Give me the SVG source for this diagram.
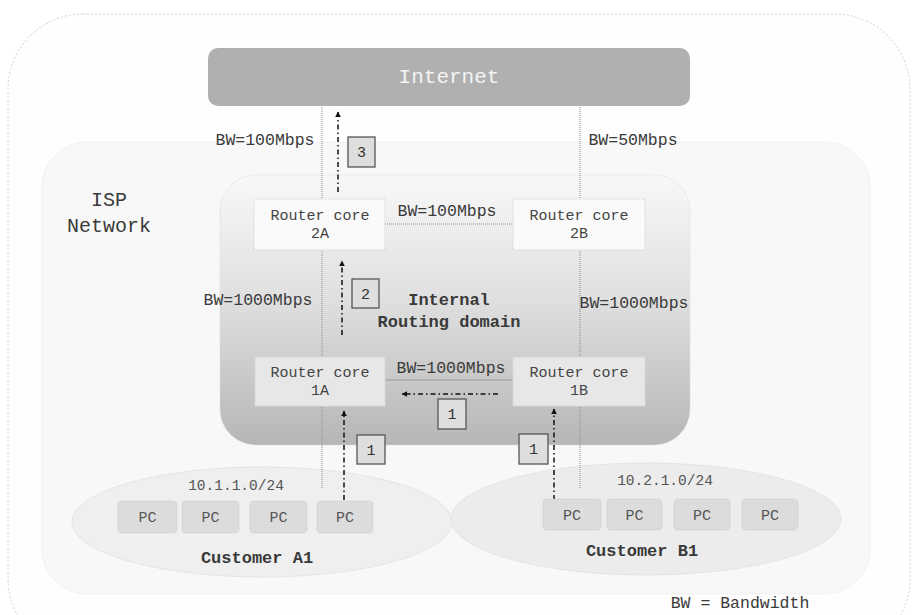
<svg xmlns="http://www.w3.org/2000/svg" width="917" height="615" viewBox="0 0 917 615">
  <defs>
    <linearGradient id="domainGrad" x1="0" y1="0" x2="0" y2="1">
      <stop offset="0" stop-color="#f8f8f8"/>
      <stop offset="0.45" stop-color="#e0e0e0"/>
      <stop offset="1" stop-color="#b6b6b6"/>
    </linearGradient>
    <marker id="arrowHead" viewBox="0 0 10 10" refX="9" refY="5" markerWidth="6" markerHeight="6" orient="auto" markerUnits="userSpaceOnUse">
      <path d="M0,0 L10,5 L0,10 Z" fill="#111"/>
    </marker>
    <style>
      text { font-family: "Liberation Mono", "Courier New", monospace; fill: #3a3a3a; }
      .bw { font-size: 16.5px; text-anchor: middle; }
      .router { font-size: 15px; text-anchor: middle; fill: #444; }
      .pc { font-size: 15px; text-anchor: middle; fill: #555; }
      .num { font-size: 15px; text-anchor: middle; fill: #333; }
      .bold { font-weight: bold; }
      .link { stroke: #8a8a8a; stroke-width: 1; stroke-dasharray: 1 1; fill: none; }
      .flow { stroke: #111; stroke-width: 1.5; stroke-dasharray: 5 3 1.5 3; fill: none; marker-end: url(#arrowHead); }
      .step { fill: #dedede; stroke: #555; stroke-width: 1.3; }
      .pcbox { fill: #dcdcdc; stroke: #c8c8c8; stroke-width: 1; stroke-dasharray: 1 1; }
      .rtr2 { fill: #fafafa; stroke: #cfcfcf; stroke-width: 1; stroke-dasharray: 1 1; }
      .rtr1 { fill: #e7e7e7; stroke: #d8d8d8; stroke-width: 1; }
    </style>
  </defs>

  <!-- backgrounds -->
  <g id="frame">
    <rect x="8" y="14" width="902" height="640" rx="75" fill="#fefefe" stroke="#d0d0d0" stroke-width="1" stroke-dasharray="2 2"/>
  </g>
  <g id="isp-network">
    <rect x="42" y="142" width="828" height="452" rx="45" fill="#f8f8f8" stroke="#e6e6e6" stroke-width="1" stroke-dasharray="1 1"/>
    <text x="109" y="206" text-anchor="middle" font-size="20">ISP</text>
    <text x="109" y="232" text-anchor="middle" font-size="20">Network</text>
  </g>
  <g id="internal-domain">
    <rect x="220" y="175" width="470" height="270" rx="36" fill="url(#domainGrad)" stroke="#dcdcdc" stroke-width="1" stroke-dasharray="1 1"/>
    <text x="449" y="305" text-anchor="middle" font-size="17" class="bold">Internal</text>
    <text x="449" y="327" text-anchor="middle" font-size="17" class="bold">Routing domain</text>
  </g>

  <g id="customer-a1">
    <ellipse cx="262" cy="522" rx="190" ry="55" fill="#efefef" stroke="#d6d6d6" stroke-width="1" stroke-dasharray="1 1"/>
  </g>
  <g id="customer-b1">
    <ellipse cx="646" cy="519" rx="195" ry="56" fill="#ececec" stroke="#d6d6d6" stroke-width="1" stroke-dasharray="1 1"/>
  </g>

  <!-- connectors -->
  <g id="connectors">
    <line class="link" x1="322" y1="105" x2="322" y2="488"/>
    <line class="link" x1="580" y1="105" x2="580" y2="489"/>
    <line class="link" x1="385" y1="224" x2="513" y2="224"/>
    <line x1="385" y1="380" x2="513" y2="380" stroke="#999" stroke-width="1"/>
    <line class="flow" x1="338" y1="192" x2="338" y2="112"/>
    <line class="flow" x1="342" y1="335" x2="342" y2="261"/>
    <line class="flow" x1="344" y1="500" x2="344" y2="411"/>
    <line class="flow" x1="554" y1="500" x2="554" y2="409"/>
    <line class="flow" x1="498" y1="394" x2="402" y2="394"/>
    <text class="bw" x="265" y="145">BW=100Mbps</text>
    <text class="bw" x="633" y="145">BW=50Mbps</text>
    <text class="bw" x="447" y="216">BW=100Mbps</text>
    <text class="bw" x="258" y="305">BW=1000Mbps</text>
    <text class="bw" x="634" y="308">BW=1000Mbps</text>
    <text class="bw" x="451" y="373">BW=1000Mbps</text>
  </g>

  <!-- step markers -->
  <g id="step-3">
    <rect class="step" x="348" y="137" width="27" height="30"/>
    <text class="num" x="361.5" y="157">3</text>
  </g>
  <g id="step-2">
    <rect class="step" x="352" y="279" width="27" height="29"/>
    <text class="num" x="365.5" y="299">2</text>
  </g>
  <g id="step-1-mid">
    <rect class="step" x="438" y="399" width="28" height="30"/>
    <text class="num" x="452" y="419">1</text>
  </g>
  <g id="step-1-left">
    <rect class="step" x="357" y="435" width="28" height="29"/>
    <text class="num" x="371" y="455">1</text>
  </g>
  <g id="step-1-right">
    <rect class="step" x="519" y="434" width="29" height="30"/>
    <text class="num" x="533.5" y="454">1</text>
  </g>

  <!-- nodes -->
  <g id="internet">
    <rect x="208" y="48" width="482" height="58" rx="10" fill="#b0b0b0"/>
    <text x="449" y="83" text-anchor="middle" font-size="21" style="fill:#f4f4f4">Internet</text>
  </g>
  <g id="router-2a">
    <rect class="rtr2" x="254" y="199" width="131" height="51"/>
    <text class="router" x="320" y="220">Router core</text>
    <text class="router" x="320" y="238">2A</text>
  </g>
  <g id="router-2b">
    <rect class="rtr2" x="513" y="199" width="132" height="51"/>
    <text class="router" x="579" y="220">Router core</text>
    <text class="router" x="579" y="238">2B</text>
  </g>
  <g id="router-1a">
    <rect class="rtr1" x="255" y="357" width="130" height="49"/>
    <text class="router" x="320" y="377">Router core</text>
    <text class="router" x="320" y="395">1A</text>
  </g>
  <g id="router-1b">
    <rect class="rtr1" x="513" y="357" width="132" height="49"/>
    <text class="router" x="579" y="377">Router core</text>
    <text class="router" x="579" y="395">1B</text>
  </g>

  <g id="customer-a1-content">
    <text x="236" y="490" text-anchor="middle" font-size="14.5" style="fill:#555">10.1.1.0/24</text>
    <g id="pc-a1"><rect class="pcbox" x="118" y="501" width="59" height="32" rx="4"/><text class="pc" x="147.5" y="522">PC</text></g>
    <g id="pc-a2"><rect class="pcbox" x="182" y="501" width="57" height="32" rx="4"/><text class="pc" x="210.5" y="522">PC</text></g>
    <g id="pc-a3"><rect class="pcbox" x="250" y="501" width="57" height="32" rx="4"/><text class="pc" x="278.5" y="522">PC</text></g>
    <g id="pc-a4"><rect class="pcbox" x="317" y="501" width="56" height="32" rx="4"/><text class="pc" x="345" y="522">PC</text></g>
    <text x="257" y="563" text-anchor="middle" font-size="17" class="bold">Customer A1</text>
  </g>
  <g id="customer-b1-content">
    <text x="665" y="485" text-anchor="middle" font-size="14.5" style="fill:#555">10.2.1.0/24</text>
    <g id="pc-b1"><rect class="pcbox" x="543" y="499" width="58" height="31" rx="4"/><text class="pc" x="572" y="520">PC</text></g>
    <g id="pc-b2"><rect class="pcbox" x="607" y="499" width="55" height="31" rx="4"/><text class="pc" x="634.5" y="520">PC</text></g>
    <g id="pc-b3"><rect class="pcbox" x="674" y="499" width="56" height="31" rx="4"/><text class="pc" x="702" y="520">PC</text></g>
    <g id="pc-b4"><rect class="pcbox" x="742" y="499" width="56" height="31" rx="4"/><text class="pc" x="770" y="520">PC</text></g>
    <text x="642" y="556" text-anchor="middle" font-size="17" class="bold">Customer B1</text>
  </g>

  <g id="legend">
    <text x="740" y="608" text-anchor="middle" font-size="16.5">BW = Bandwidth</text>
  </g>
</svg>
